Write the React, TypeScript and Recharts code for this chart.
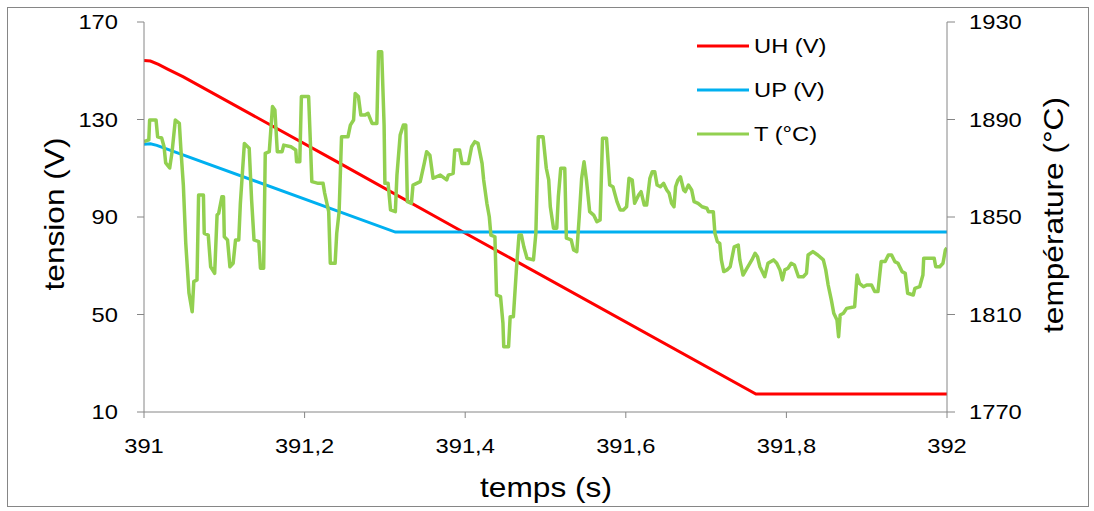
import React from 'react';
import { LineChart, Line, XAxis, YAxis } from 'recharts';

// axis ticks
const X_TICKS = [391, 391.2, 391.4, 391.6, 391.8, 392];
const TENSION_TICKS = [10, 50, 90, 130, 170];
const TEMP_TICKS = [1770, 1810, 1850, 1890, 1930];

// UH (V) - heater voltage
const UH_TIME = [391.0, 391.008, 391.018, 391.030, 391.049, 391.244, 391.389, 391.762, 392.0];
const UH_VALUE = [154.2, 154.0, 152.6, 150.6, 147.5, 112.0, 85.4, 17.4, 17.4];

// UP (V)
const UP_TIME = [391.0, 391.008, 391.016, 391.313, 392.0];
const UP_VALUE = [119.8, 120.0, 119.4, 83.8, 83.8];

// T (°C)
const T_TIME = [
  391.000, 391.006, 391.007, 391.015, 391.017, 391.022, 391.025, 391.027, 391.032, 391.035,
  391.039, 391.044, 391.046, 391.049, 391.052, 391.056, 391.060, 391.062, 391.066, 391.068,
  391.074, 391.075, 391.080, 391.083, 391.088, 391.091, 391.093, 391.097, 391.099, 391.100,
  391.104, 391.107, 391.111, 391.114, 391.118, 391.120, 391.125, 391.131, 391.134, 391.137,
  391.143, 391.145, 391.149, 391.151, 391.156, 391.160, 391.163, 391.166, 391.172, 391.174,
  391.183, 391.189, 391.190, 391.194, 391.196, 391.205, 391.207, 391.209, 391.217, 391.223,
  391.225, 391.230, 391.232, 391.238, 391.240, 391.243, 391.246, 391.254, 391.257, 391.261,
  391.263, 391.267, 391.270, 391.275, 391.279, 391.284, 391.290, 391.292, 391.296, 391.299,
  391.300, 391.304, 391.307, 391.313, 391.315, 391.319, 391.323, 391.326, 391.328, 391.333,
  391.335, 391.344, 391.349, 391.352, 391.356, 391.360, 391.369, 391.377, 391.379, 391.385,
  391.387, 391.393, 391.396, 391.404, 391.408, 391.412, 391.416, 391.421, 391.423, 391.427,
  391.430, 391.432, 391.437, 391.439, 391.444, 391.447, 391.448, 391.454, 391.456, 391.460,
  391.464, 391.467, 391.470, 391.473, 391.477, 391.485, 391.488, 391.491, 391.497, 391.501,
  391.504, 391.506, 391.510, 391.514, 391.516, 391.519, 391.524, 391.526, 391.532, 391.535,
  391.539, 391.542, 391.545, 391.548, 391.551, 391.555, 391.560, 391.564, 391.568, 391.571,
  391.576, 391.580, 391.584, 391.589, 391.593, 391.597, 391.601, 391.604, 391.608, 391.611,
  391.616, 391.619, 391.623, 391.626, 391.630, 391.633, 391.636, 391.639, 391.643, 391.647,
  391.651, 391.654, 391.657, 391.660, 391.662, 391.665, 391.668, 391.672, 391.674, 391.678,
  391.682, 391.685, 391.690, 391.695, 391.701, 391.703, 391.709, 391.711, 391.714, 391.717,
  391.719, 391.722, 391.726, 391.730, 391.735, 391.740, 391.742, 391.746, 391.751, 391.757,
  391.761, 391.764, 391.767, 391.770, 391.773, 391.777, 391.784, 391.788, 391.792, 391.795,
  391.798, 391.802, 391.806, 391.810, 391.815, 391.821, 391.825, 391.827, 391.833, 391.839,
  391.846, 391.849, 391.852, 391.856, 391.859, 391.863, 391.865, 391.867, 391.871, 391.875,
  391.885, 391.888, 391.891, 391.896, 391.900, 391.906, 391.910, 391.914, 391.918, 391.923,
  391.927, 391.931, 391.935, 391.939, 391.944, 391.948, 391.951, 391.958, 391.960, 391.966,
  391.970, 391.971, 391.984, 391.986, 391.991, 391.995, 391.998, 392.000,
];
const T_VALUE = [
  1880.9, 1881.6, 1889.8, 1889.8, 1882.9, 1882.4, 1878.8, 1872.2, 1870.1, 1876.8,
  1889.8, 1888.4, 1877.5, 1863.1, 1839.3, 1818.8, 1811.1, 1823.5, 1824.2, 1859.0,
  1859.0, 1843.3, 1842.6, 1829.6, 1826.9, 1850.8, 1851.5, 1858.3, 1858.3, 1841.9,
  1840.6, 1829.6, 1831.0, 1840.6, 1840.6, 1855.6, 1880.2, 1878.2, 1857.0, 1840.6,
  1839.9, 1829.0, 1829.0, 1876.1, 1876.8, 1895.3, 1893.9, 1876.8, 1876.8, 1879.5,
  1878.8, 1877.5, 1872.7, 1872.7, 1899.4, 1899.4, 1882.4, 1864.5, 1863.8, 1863.8,
  1859.8, 1852.2, 1831.0, 1831.0, 1843.3, 1852.2, 1882.9, 1882.9, 1887.7, 1889.8,
  1900.7, 1899.4, 1891.8, 1891.8, 1892.5, 1888.4, 1888.4, 1917.8, 1917.8, 1887.7,
  1863.8, 1863.8, 1852.9, 1852.2, 1867.2, 1883.6, 1887.7, 1887.7, 1856.3, 1855.6,
  1863.1, 1864.5, 1872.0, 1876.8, 1875.4, 1865.9, 1867.2, 1865.2, 1867.2, 1867.9,
  1877.5, 1877.5, 1872.0, 1872.0, 1878.8, 1880.9, 1880.2, 1872.0, 1865.2, 1855.6,
  1850.1, 1842.6, 1841.9, 1818.0, 1817.3, 1806.4, 1796.8, 1796.8, 1809.1, 1809.1,
  1829.6, 1842.6, 1842.6, 1837.8, 1833.1, 1832.4, 1843.3, 1882.9, 1882.9, 1870.0,
  1865.2, 1854.2, 1845.4, 1845.4, 1858.3, 1870.0, 1870.0, 1841.3, 1840.6, 1836.5,
  1835.8, 1850.1, 1865.9, 1872.7, 1865.2, 1852.2, 1850.8, 1848.1, 1848.8, 1882.3,
  1882.3, 1863.1, 1862.4, 1856.3, 1852.9, 1852.9, 1854.2, 1865.9, 1865.2, 1855.6,
  1859.0, 1860.4, 1854.9, 1854.9, 1865.9, 1868.6, 1868.6, 1863.1, 1862.4, 1863.8,
  1861.1, 1859.7, 1855.6, 1854.2, 1862.4, 1865.2, 1866.5, 1861.1, 1860.4, 1863.1,
  1861.1, 1856.3, 1855.6, 1854.2, 1853.6, 1852.2, 1852.2, 1843.3, 1839.9, 1839.2,
  1832.4, 1827.6, 1828.3, 1829.6, 1837.8, 1838.5, 1832.4, 1826.2, 1829.0, 1832.4,
  1835.1, 1833.7, 1829.6, 1827.6, 1825.5, 1831.0, 1832.4, 1831.0, 1828.3, 1824.2,
  1828.3, 1829.0, 1831.0, 1830.3, 1825.5, 1825.5, 1826.9, 1834.4, 1835.8, 1834.4,
  1832.4, 1828.3, 1822.1, 1815.9, 1810.5, 1807.7, 1800.9, 1809.8, 1810.5, 1812.5,
  1813.2, 1826.2, 1822.8, 1821.4, 1822.1, 1822.1, 1819.4, 1819.4, 1831.7, 1831.7,
  1834.4, 1834.4, 1831.7, 1831.0, 1827.6, 1826.9, 1818.7, 1818.0, 1820.7, 1821.4,
  1826.2, 1833.1, 1833.1, 1829.6, 1829.6, 1831.0, 1836.5, 1837.3,
];

const LEGEND_ITEMS = [
  { label: 'UH (V)', color: '#ff0000' },
  { label: 'UP (V)', color: '#00b0f0' },
  { label: 'T (°C)', color: '#92d050' },
];

const FONT = '"Liberation Sans", Arial, sans-serif';
const SX = 1.13; // the source text is slightly wide
const AXIS_GREY = '#868686';

const uhData = UH_TIME.map((t, i) => ({ t, v: UH_VALUE[i] }));
const upData = UP_TIME.map((t, i) => ({ t, v: UP_VALUE[i] }));
const tData = T_TIME.map((t, i) => ({ t, v: T_VALUE[i] }));

const fmtX = (v: number) => String(Number(v.toFixed(1))).replace('.', ',');

const XTick = (props: any) => {
  const { x, y, payload } = props;
  return (
    <text transform={`translate(${x},${y}) scale(${SX},1)`} textAnchor="middle" dy="0.71em"
      fontSize={21} fontFamily={FONT} fill="#000">
      {fmtX(payload.value)}
    </text>
  );
};

const LeftTick = (props: any) => {
  const { x, y, payload } = props;
  return (
    <text transform={`translate(${x},${y}) scale(${SX},1)`} textAnchor="end" dy="0.35em"
      fontSize={21} fontFamily={FONT} fill="#000">
      {payload.value}
    </text>
  );
};

const RightTick = (props: any) => {
  const { x, y, payload } = props;
  return (
    <text transform={`translate(${x},${y}) scale(${SX},1)`} textAnchor="start" dy="0.35em"
      fontSize={21} fontFamily={FONT} fill="#000">
      {payload.value}
    </text>
  );
};

// legend box drawn over the plot, top right
const ChartLegend = () => (
  <div style={{ position: 'absolute', left: 697, top: 24, fontFamily: FONT, fontSize: 21, color: '#000' }}>
    {LEGEND_ITEMS.map(item => (
      <div key={item.label} style={{ display: 'flex', alignItems: 'center', height: 44 }}>
        <svg width={52} height={6}>
          <line x1={0} y1={3} x2={52} y2={3} stroke={item.color} strokeWidth={3} />
        </svg>
        <span style={{ marginLeft: 5, display: 'inline-block', transform: `scaleX(${SX})`, transformOrigin: 'left center', whiteSpace: 'pre' }}>
          {item.label}
        </span>
      </div>
    ))}
  </div>
);

const titleStyle = (left: number, top: number, rotate: number): React.CSSProperties => ({
  position: 'absolute',
  left,
  top,
  transform: `translate(-50%, -50%) rotate(${rotate}deg) scaleX(${SX})`,
  fontFamily: FONT,
  fontSize: 28,
  lineHeight: 1,
  whiteSpace: 'nowrap',
  color: '#000',
});

export default function App() {
  return (
    <div style={{ position: 'absolute', left: 0, top: 0, width: 1094, height: 511, background: '#fff' }}>
      <div style={{ position: 'absolute', left: 7, top: 7, width: 1082, height: 500, boxSizing: 'border-box', border: `1px solid ${AXIS_GREY}` }} />
      <LineChart width={1094} height={511} margin={{ top: 22, right: 0, bottom: 0, left: 0 }}>
        <XAxis
          type="number"
          dataKey="t"
          domain={[391, 392]}
          ticks={X_TICKS}
          allowDataOverflow
          height={99}
          tickSize={6}
          tickMargin={20}
          tick={XTick}
          axisLine={{ stroke: AXIS_GREY }}
          tickLine={{ stroke: AXIS_GREY }}
        />
        <YAxis
          yAxisId="left"
          domain={[10, 170]}
          ticks={TENSION_TICKS}
          allowDataOverflow
          width={144}
          tickSize={7}
          tickMargin={19}
          tick={LeftTick}
          axisLine={{ stroke: AXIS_GREY }}
          tickLine={{ stroke: AXIS_GREY }}
        />
        <YAxis
          yAxisId="right"
          orientation="right"
          domain={[1770, 1930]}
          ticks={TEMP_TICKS}
          allowDataOverflow
          width={147}
          tickSize={8}
          tickMargin={14}
          tick={RightTick}
          axisLine={{ stroke: AXIS_GREY }}
          tickLine={{ stroke: AXIS_GREY }}
        />
        <Line yAxisId="left" data={uhData} dataKey="v" name="UH (V)" type="linear" stroke="#ff0000"
          strokeWidth={3} dot={false} isAnimationActive={false} />
        <Line yAxisId="left" data={upData} dataKey="v" name="UP (V)" type="linear" stroke="#00b0f0"
          strokeWidth={3} dot={false} isAnimationActive={false} />
        <Line yAxisId="right" data={tData} dataKey="v" name="T (°C)" type="linear" stroke="#92d050"
          strokeWidth={3.5} strokeLinejoin="round" dot={false} isAnimationActive={false} />
      </LineChart>
      <ChartLegend />
      <div style={titleStyle(55, 214, -90)}>tension (V)</div>
      <div style={titleStyle(1054, 215, -90)}>température (°C)</div>
      <div style={titleStyle(546, 488, 0)}>temps (s)</div>
    </div>
  );
}
